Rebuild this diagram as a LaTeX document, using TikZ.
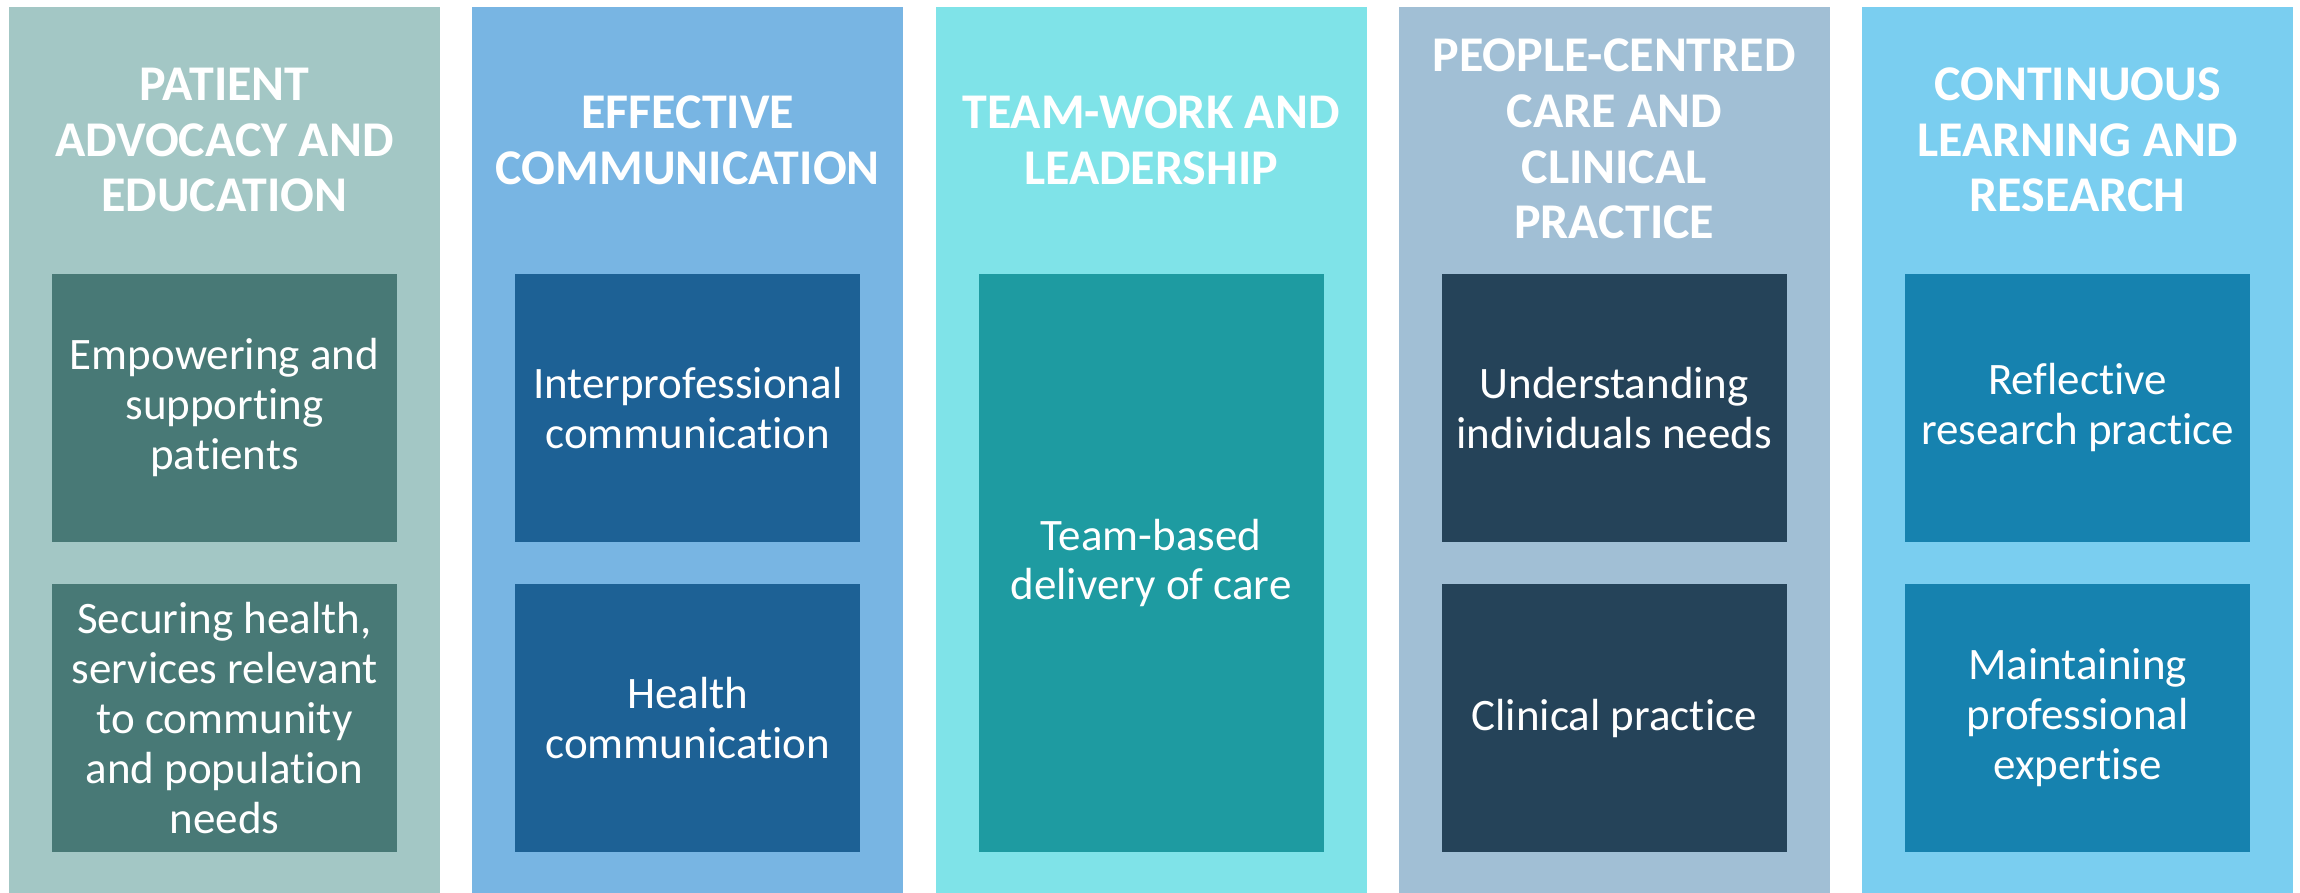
\documentclass[tikz,border=0pt]{standalone}
\usepackage{fontspec}
\setmainfont{Carlito}[Ligatures=NoCommon]
\definecolor{bgA}{HTML}{A3C7C5}\definecolor{inA}{HTML}{487976}
\definecolor{bgB}{HTML}{78B5E3}\definecolor{inB}{HTML}{1D6195}
\definecolor{bgC}{HTML}{7FE3E8}\definecolor{inC}{HTML}{1E9BA1}
\definecolor{bgD}{HTML}{A1BFD5}\definecolor{inD}{HTML}{254359}
\definecolor{bgE}{HTML}{7ACEF0}\definecolor{inE}{HTML}{1682AF}
\begin{document}
\begin{tikzpicture}[x=1pt,y=-1pt,
  colbox/.style={draw=none,inner sep=0pt,minimum width=431pt,minimum height=886pt,anchor=north west},
  headtext/.style={text=white,align=center,inner sep=0pt,font=\fontsize{50}{55.7}\selectfont\bfseries},
  subbox/.style={draw=none,text=white,align=center,inner sep=0pt,minimum width=345pt,minimum height=268pt,font=\fontsize{45}{50}\selectfont},
  tallbox/.style={subbox,minimum height=578pt}]
\useasboundingbox (0,0) rectangle (2300,893);
% columns
\node[colbox,fill=bgA] (colA) at (9,7) {};
\node[colbox,fill=bgB] (colB) at (472.25,7) {};
\node[colbox,fill=bgC] (colC) at (935.5,7) {};
\node[colbox,fill=bgD] (colD) at (1398.75,7) {};
\node[colbox,fill=bgE] (colE) at (1862,7) {};
% headings
\node[headtext] (hA) at (224.5,140) {PATIENT\\ADVOCACY AND\\EDUCATION};
\node[headtext] (hB) at (687.75,140) {EFFECTIVE\\COMMUNICATION};
\node[headtext] (hC) at (1151,140) {TEAM-WORK AND\\LEADERSHIP};
\node[headtext] (hD) at (1614.25,139) {PEOPLE-CENTRED\\CARE AND\\CLINICAL\\PRACTICE};
\node[headtext] (hE) at (2077.5,140) {CONTINUOUS\\LEARNING AND\\RESEARCH};
% sub boxes
\node[subbox,fill=inA] (a1) at (224.5,408) {Empowering and\\supporting\\patients};
\node[subbox,fill=inA] (a2) at (224.5,718) {Securing health,\\services relevant\\to community\\and population\\needs};
\node[subbox,fill=inB] (b1) at (687.75,408) {Interprofessional\\communication};
\node[subbox,fill=inB] (b2) at (687.75,718) {Health\\communication};
\node[tallbox,fill=inC] (c1) at (1151,563) {Team-based\\delivery of care};
\node[subbox,fill=inD] (d1) at (1614.25,408) {Understanding\\individuals needs};
\node[subbox,fill=inD] (d2) at (1614.25,718) {Clinical practice};
\node[subbox,fill=inE] (e1) at (2077.5,408) {Reflective\\research practice};
\node[subbox,fill=inE] (e2) at (2077.5,718) {Maintaining\\professional\\expertise};
\end{tikzpicture}
\end{document}
